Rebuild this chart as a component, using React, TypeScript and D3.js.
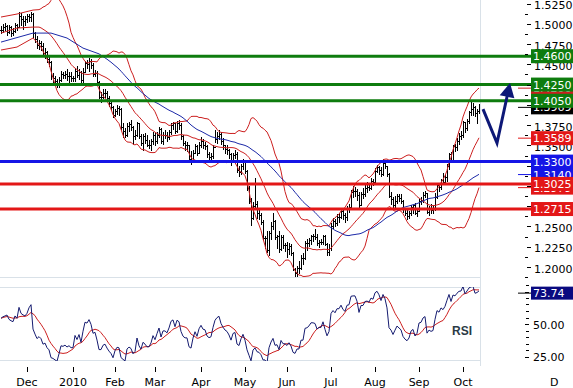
import React from "react";
import * as d3 from "d3";

// daily EUR/USD bars: [high, low, close]
type Bar = [number, number, number];

const nov09: Bar[] = [
  [1.4975, 1.488, 1.492], [1.4995, 1.4895, 1.496], [1.501, 1.4925, 1.4975], [1.499, 1.4865, 1.49],
  [1.4985, 1.488, 1.4955], [1.497, 1.485, 1.489], [1.495, 1.486, 1.491], [1.501, 1.49, 1.498],
  [1.5, 1.4925, 1.496], [1.5145, 1.4955, 1.51], [1.513, 1.498, 1.506], [1.509, 1.493, 1.503],
  [1.51, 1.499, 1.506],
];
const dec09: Bar[] = [
  [1.5125, 1.502, 1.509], [1.512, 1.503, 1.508], [1.5145, 1.504, 1.512], [1.513, 1.484, 1.488],
  [1.49, 1.477, 1.481], [1.485, 1.47, 1.474], [1.48, 1.469, 1.476], [1.479, 1.468, 1.473],
  [1.476, 1.46, 1.464], [1.47, 1.458, 1.465], [1.466, 1.453, 1.457], [1.46, 1.448, 1.453],
  [1.454, 1.432, 1.435], [1.439, 1.427, 1.433], [1.436, 1.425, 1.429], [1.432, 1.422, 1.425],
  [1.434, 1.422, 1.431], [1.442, 1.43, 1.438], [1.44, 1.433, 1.437], [1.442, 1.433, 1.438],
  [1.444, 1.431, 1.435], [1.44, 1.428, 1.436], [1.441, 1.43, 1.433],
];
const jan10: Bar[] = [
  [1.436, 1.43, 1.433], [1.445, 1.43, 1.442], [1.448, 1.434, 1.437], [1.444, 1.432, 1.441],
  [1.442, 1.426, 1.431], [1.445, 1.426, 1.441], [1.454, 1.442, 1.451], [1.455, 1.445, 1.45],
  [1.458, 1.442, 1.454], [1.456, 1.446, 1.449], [1.451, 1.435, 1.438], [1.443, 1.435, 1.439],
  [1.442, 1.425, 1.428], [1.429, 1.408, 1.41], [1.416, 1.403, 1.41], [1.419, 1.409, 1.414],
  [1.419, 1.41, 1.415], [1.417, 1.405, 1.408], [1.411, 1.398, 1.402], [1.405, 1.394, 1.397],
  [1.399, 1.385, 1.387],
];
const feb10: Bar[] = [
  [1.395, 1.386, 1.393], [1.4, 1.389, 1.396], [1.399, 1.388, 1.395], [1.396, 1.37, 1.373],
  [1.378, 1.36, 1.368], [1.372, 1.36, 1.363], [1.378, 1.362, 1.374], [1.379, 1.368, 1.376],
  [1.381, 1.369, 1.373], [1.374, 1.353, 1.361], [1.369, 1.358, 1.363], [1.379, 1.361, 1.377],
  [1.378, 1.359, 1.361], [1.364, 1.351, 1.353], [1.364, 1.344, 1.361], [1.365, 1.353, 1.357],
  [1.363, 1.349, 1.351], [1.357, 1.347, 1.351], [1.358, 1.344, 1.355], [1.367, 1.352, 1.363],
];
const mar10: Bar[] = [
  [1.365, 1.35, 1.356], [1.366, 1.353, 1.363], [1.373, 1.36, 1.37], [1.371, 1.353, 1.355],
  [1.367, 1.352, 1.363], [1.369, 1.359, 1.363], [1.366, 1.355, 1.36], [1.369, 1.358, 1.366],
  [1.377, 1.364, 1.375], [1.379, 1.37, 1.377], [1.378, 1.365, 1.368], [1.38, 1.367, 1.377],
  [1.381, 1.37, 1.375], [1.377, 1.358, 1.361], [1.363, 1.35, 1.353], [1.356, 1.344, 1.35],
  [1.354, 1.343, 1.35], [1.351, 1.331, 1.333], [1.343, 1.327, 1.33], [1.344, 1.329, 1.341],
  [1.352, 1.34, 1.349], [1.351, 1.338, 1.341], [1.354, 1.34, 1.351],
];
const apr10: Bar[] = [
  [1.36, 1.348, 1.356], [1.358, 1.347, 1.35], [1.354, 1.346, 1.349], [1.351, 1.336, 1.339],
  [1.342, 1.333, 1.336], [1.341, 1.33, 1.337], [1.351, 1.335, 1.348], [1.369, 1.354, 1.358],
  [1.367, 1.353, 1.362], [1.369, 1.358, 1.364], [1.367, 1.352, 1.355], [1.359, 1.345, 1.35],
  [1.351, 1.341, 1.346], [1.35, 1.339, 1.344], [1.346, 1.334, 1.339], [1.34, 1.326, 1.331],
  [1.341, 1.329, 1.338], [1.344, 1.334, 1.339], [1.342, 1.317, 1.32], [1.325, 1.312, 1.317],
  [1.327, 1.315, 1.324], [1.333, 1.321, 1.329],
];
const may10: Bar[] = [
  [1.331, 1.316, 1.319], [1.32, 1.295, 1.298], [1.3, 1.279, 1.282], [1.285, 1.252, 1.261],
  [1.28, 1.259, 1.275], [1.3095, 1.272, 1.278], [1.282, 1.261, 1.266], [1.272, 1.259, 1.264],
  [1.267, 1.253, 1.256], [1.258, 1.235, 1.236], [1.238, 1.223, 1.236], [1.244, 1.218, 1.221],
  [1.244, 1.215, 1.242], [1.255, 1.234, 1.251], [1.266, 1.247, 1.257], [1.258, 1.234, 1.237],
  [1.24, 1.223, 1.238], [1.244, 1.219, 1.222], [1.24, 1.221, 1.237], [1.239, 1.224, 1.227],
  [1.23, 1.22, 1.227],
];
const jun10: Bar[] = [
  [1.231, 1.212, 1.222], [1.229, 1.216, 1.226], [1.228, 1.215, 1.217], [1.218, 1.196, 1.197],
  [1.199, 1.188, 1.193], [1.201, 1.189, 1.199], [1.207, 1.192, 1.199], [1.215, 1.198, 1.211],
  [1.217, 1.204, 1.211], [1.232, 1.21, 1.229], [1.234, 1.221, 1.23], [1.236, 1.226, 1.233],
  [1.24, 1.228, 1.238], [1.241, 1.232, 1.238], [1.247, 1.235, 1.237], [1.241, 1.227, 1.229],
  [1.233, 1.225, 1.231], [1.235, 1.228, 1.231], [1.24, 1.228, 1.238], [1.239, 1.227, 1.228],
  [1.23, 1.215, 1.218], [1.228, 1.215, 1.223],
];
const jul10: Bar[] = [
  [1.254, 1.221, 1.251], [1.261, 1.248, 1.257], [1.259, 1.251, 1.254], [1.265, 1.252, 1.262],
  [1.266, 1.256, 1.262], [1.272, 1.261, 1.269], [1.27, 1.259, 1.264], [1.267, 1.256, 1.262],
  [1.275, 1.258, 1.273], [1.278, 1.268, 1.274], [1.295, 1.273, 1.293], [1.3, 1.286, 1.294],
  [1.299, 1.288, 1.294], [1.296, 1.283, 1.289], [1.293, 1.274, 1.277], [1.293, 1.276, 1.29],
  [1.298, 1.285, 1.29], [1.302, 1.288, 1.298], [1.305, 1.293, 1.299], [1.302, 1.295, 1.298],
  [1.31, 1.296, 1.306], [1.309, 1.301, 1.305],
];
const aug10: Bar[] = [
  [1.322, 1.305, 1.319], [1.326, 1.317, 1.323], [1.325, 1.315, 1.32], [1.323, 1.312, 1.315],
  [1.333, 1.314, 1.328], [1.33, 1.322, 1.324], [1.325, 1.312, 1.315], [1.316, 1.286, 1.288],
  [1.292, 1.278, 1.284], [1.286, 1.274, 1.276], [1.287, 1.274, 1.282], [1.29, 1.279, 1.288],
  [1.29, 1.281, 1.285], [1.29, 1.279, 1.282], [1.283, 1.268, 1.271], [1.272, 1.264, 1.266],
  [1.27, 1.259, 1.263], [1.269, 1.261, 1.266], [1.277, 1.264, 1.274], [1.277, 1.266, 1.276],
  [1.279, 1.265, 1.266], [1.272, 1.263, 1.269],
];
const sep10: Bar[] = [
  [1.284, 1.269, 1.282], [1.286, 1.278, 1.283], [1.292, 1.28, 1.289], [1.294, 1.286, 1.291],
  [1.291, 1.266, 1.268], [1.275, 1.264, 1.272], [1.278, 1.266, 1.27], [1.276, 1.267, 1.271],
  [1.291, 1.27, 1.286], [1.304, 1.285, 1.301], [1.304, 1.294, 1.299], [1.309, 1.296, 1.307],
  [1.316, 1.303, 1.305], [1.314, 1.303, 1.311], [1.327, 1.306, 1.324], [1.341, 1.321, 1.339],
  [1.342, 1.329, 1.331], [1.35, 1.33, 1.349], [1.352, 1.343, 1.348], [1.359, 1.344, 1.356],
  [1.365, 1.352, 1.362], [1.368, 1.358, 1.363],
];
const oct10: Bar[] = [
  [1.38, 1.36, 1.379], [1.379, 1.367, 1.371], [1.382, 1.369, 1.38], [1.393, 1.378, 1.391],
  [1.403, 1.388, 1.395], [1.402, 1.388, 1.397], [1.399, 1.386, 1.39], [1.395, 1.377, 1.392],
  [1.401, 1.39, 1.3969],
];

const bars: Bar[] = [
  ...nov09, ...dec09, ...jan10, ...feb10, ...mar10, ...apr10,
  ...may10, ...jun10, ...jul10, ...aug10, ...sep10, ...oct10,
];
const firstDay = new Date(2009, 10, 12);

// indicator values before enough history is on the chart: [bar, value]
const bbUpperHead: [number, number][] = [[0, 1.5083], [8, 1.512], [16, 1.5169]];
const bbMidHead: [number, number][] = [[0, 1.4885], [8, 1.4947], [16, 1.4959]];
const bbLowerHead: [number, number][] = [[0, 1.4676], [8, 1.4713], [16, 1.4824]];
const smaHead: [number, number][] = [[0, 1.4774], [16, 1.4885], [25, 1.4885], [33, 1.4824], [41, 1.47]];
const rsiHead = [54.4, 55.6, 56.2, 56.9, 53.6, 52.5, 51.8, 56.2, 54.4, 62.8, 58.2, 57.0, 56.2, 58.2];

// horizontal support / resistance levels
const levelValues = [1.46, 1.425, 1.405, 1.33, 1.3025, 1.2715];
const levelKinds = ["res", "res", "res", "pivot", "sup", "sup"];

// last values shown on the right axis
const lastBbUpper = 1.4206;
const lastClose = 1.3969;
const lastBbMid = 1.3589;
const lastSma = 1.3140;
const lastBbLower = 1.2979;
const lastRsi = 73.74;

// projected path drawn on the chart: [bar, price]
const projection: [number, number][] = [[241, 1.3948], [248, 1.3529], [254.5, 1.4269]];

const GREEN = "#0e7c0e";
const RED = "#e31717";
const BLUE = "#1515e6";
const BAND = "#cc1f1f";
const NAVY = "#0d1877";
const GRID = "#d9e1e8";
const FONT = "DejaVu Sans, Verdana, sans-serif";

const levelColor: Record<string, string> = { res: GREEN, pivot: BLUE, sup: RED };

export default function App() {
  const n = bars.length;
  const closes = bars.map((b) => b[2]);

  const x = d3.scaleLinear().domain([0, n - 1]).range([1, 479]);
  const y = d3.scaleLinear().domain([1.2, 1.525]).range([267, 3.5]);
  const yr = d3.scaleLinear().domain([25, 50]).range([356.5, 324]);

  // weekday calendar for the axis
  const days: Date[] = [];
  for (let d = new Date(firstDay); days.length < 300; d.setDate(d.getDate() + 1)) {
    const wd = d.getDay();
    if (wd !== 0 && wd !== 6) days.push(new Date(d));
  }
  const monthStarts: number[] = [];
  for (let i = 1; i < days.length; i++) {
    if (days[i].getMonth() !== days[i - 1].getMonth()) monthStarts.push(i);
  }
  const fmtMonth = d3.timeFormat("%b");
  const ticks = monthStarts.filter((i) => i < n);
  const tailMonth = monthStarts.find((i) => i >= n && days[i].getMonth() === 11)!;

  // bollinger 20,2 and sma 50
  const bbU: [number, number][] = [...bbUpperHead];
  const bbM: [number, number][] = [...bbMidHead];
  const bbL: [number, number][] = [...bbLowerHead];
  for (let i = 19; i < n; i++) {
    const w = closes.slice(i - 19, i + 1);
    const m = d3.mean(w)!;
    const s = Math.sqrt(d3.mean(w, (v) => (v - m) ** 2)!);
    bbU.push([i, m + 2 * s]);
    bbM.push([i, m]);
    bbL.push([i, m - 2 * s]);
  }
  const sma: [number, number][] = [...smaHead];
  for (let i = 49; i < n; i++) sma.push([i, d3.mean(closes.slice(i - 49, i + 1))!]);

  // rsi 14 (wilder)
  const rsi: number[] = [...rsiHead];
  let ag = 0, al = 0;
  for (let i = 1; i <= 14; i++) {
    const ch = closes[i] - closes[i - 1];
    if (ch > 0) ag += ch; else al -= ch;
  }
  ag /= 14; al /= 14;
  rsi[14] = 100 - 100 / (1 + ag / al);
  for (let i = 15; i < n; i++) {
    const ch = closes[i] - closes[i - 1];
    ag = (ag * 13 + Math.max(ch, 0)) / 14;
    al = (al * 13 + Math.max(-ch, 0)) / 14;
    rsi[i] = 100 - 100 / (1 + ag / al);
  }
  const rsiSig = rsi.map((_, i) => d3.mean(rsi.slice(Math.max(0, i - 8), i + 1))!);

  const priceLine = d3.line<[number, number]>().x((d) => x(d[0])).y((d) => y(d[1]));
  const rsiLine = d3.line<number>().x((_, i) => x(i)).y((d) => yr(d));

  const majors = d3.range(0, 14).map((k) => 1.2 + k * 0.025);
  const minors = d3.range(0, 14).map((k) => 1.1875 + k * 0.025);
  const rsiTicks = d3.range(25, 81, 5);
  const f4 = d3.format(".4f");
  const f2 = d3.format(".2f");

  const indicatorLabels = [
    { v: lastBbUpper, c: BAND },
    { v: lastClose, c: "#000" },
    { v: lastBbMid, c: RED },
    { v: lastSma, c: BLUE },
    { v: lastBbLower, c: RED },
  ];

  // projection arrow
  const pp = projection.map(([i, p]) => [x(i), y(p)] as [number, number]);
  const [tx, ty] = pp[pp.length - 1];
  const [bx, by] = pp[pp.length - 2];
  const len = Math.hypot(tx - bx, ty - by);
  const ux = (tx - bx) / len, uy = (ty - by) / len;
  const headL = 14, headW = 7.5;
  const hx = tx - ux * headL, hy = ty - uy * headL;
  const shaft = [...pp.slice(0, -1), [hx + ux, hy + uy] as [number, number]];
  const head = `M${tx},${ty}L${hx - uy * headW},${hy + ux * headW}L${hx + uy * headW},${hy - ux * headW}Z`;

  return (
    <svg width={573} height={388} style={{ position: "absolute", left: 0, top: 0, background: "#fff" }}
      fontFamily={FONT}>
      <defs>
        <clipPath id="main"><rect x={0} y={0} width={480} height={277} /></clipPath>
        <clipPath id="rsi"><rect x={0} y={287} width={480} height={74} /></clipPath>
      </defs>
      <rect x={0} y={0} width={573} height={388} fill="#fff" />

      {/* frame lines */}
      <g stroke={GRID} strokeWidth={1} shapeRendering="crispEdges">
        <line x1={480.5} x2={480.5} y1={0} y2={366} />
        <line x1={0} x2={480} y1={277.5} y2={277.5} />
        <line x1={0} x2={480} y1={287.5} y2={287.5} />
        <line x1={0} x2={480} y1={360.5} y2={360.5} />
      </g>

      <g clipPath="url(#main)">
        {/* price bars */}
        <g stroke="#000" strokeWidth={1} shapeRendering="crispEdges">
          {bars.map(([h, l, c], i) => {
            const cx = Math.round(x(i)) + 0.5;
            const o = i > 0 ? bars[i - 1][2] : c;
            const yo = Math.round(y(o)) + 0.5;
            const yc = Math.round(y(c)) + 0.5;
            return (
              <g key={i}>
                <line x1={cx} x2={cx} y1={Math.round(y(h))} y2={Math.round(y(l)) + 1} />
                <line x1={cx - 1.5} x2={cx} y1={yo} y2={yo} />
                <line x1={cx} x2={cx + 1.5} y1={yc} y2={yc} />
              </g>
            );
          })}
        </g>
        <g fill="none" strokeWidth={1}>
          <path d={priceLine(bbU)!} stroke={BAND} />
          <path d={priceLine(bbM)!} stroke={BAND} />
          <path d={priceLine(bbL)!} stroke={BAND} />
          <path d={priceLine(sma)!} stroke="#1d2aa8" />
        </g>
      </g>

      {/* levels */}
      {levelValues.map((v, k) => (
        <line key={k} x1={0} x2={531} y1={y(v)} y2={y(v)} stroke={levelColor[levelKinds[k]]} strokeWidth={3} />
      ))}

      {/* projection */}
      <polyline points={shaft.map((p) => p.join(",")).join(" ")} fill="none" stroke={NAVY}
        strokeWidth={3} strokeLinejoin="miter" />
      <path d={head} fill={NAVY} />

      {/* rsi */}
      <g clipPath="url(#rsi)" fill="none" strokeWidth={1}>
        <path d={rsiLine(rsiSig)!} stroke={BAND} />
        <path d={rsiLine(rsi)!} stroke="#151b70" />
      </g>
      <text x={452} y={335} fontFamily="Liberation Sans, Arial, sans-serif" fontWeight="bold" fontSize={12}
        fill="#2b3a45">RSI</text>

      {/* price axis */}
      <g stroke="#000" shapeRendering="crispEdges">
        {majors.map((v) => <line key={v} x1={527} x2={531} y1={Math.round(y(v)) + 0.5} y2={Math.round(y(v)) + 0.5} />)}
        {minors.map((v) => <line key={v} x1={525} x2={528} y1={Math.round(y(v)) + 0.5} y2={Math.round(y(v)) + 0.5} />)}
      </g>
      <g fontSize={11} fill="#000">
        {majors.map((v) => <text key={v} x={534} y={y(v) + 5.5}>{f4(v)}</text>)}
      </g>

      {/* indicator last values */}
      {indicatorLabels.map((d, k) => (
        <g key={k}>
          <line x1={518} x2={531} y1={y(d.v)} y2={y(d.v)} stroke={d.c} strokeWidth={1} />
          <rect x={531} y={y(d.v) - 7} width={42} height={14} fill={d.c} />
          <text x={533} y={y(d.v) + 4} fontSize={11} fill="#fff">{f4(d.v)}</text>
        </g>
      ))}

      {/* level labels */}
      {levelValues.map((v, k) => (
        <g key={k}>
          <rect x={531} y={y(v) - 7} width={42} height={14} fill={levelColor[levelKinds[k]]} />
          <text x={533} y={y(v) + 4} fontSize={11} fill="#fff">{f4(v)}</text>
        </g>
      ))}

      {/* rsi axis */}
      <g stroke="#000" shapeRendering="crispEdges">
        {rsiTicks.map((v) => (
          <line key={v} x1={v % 25 === 0 ? 525 : 526} x2={529} y1={Math.round(yr(v)) + 0.5} y2={Math.round(yr(v)) + 0.5} />
        ))}
      </g>
      <g fontSize={11} fill="#000">
        {[25, 50, 75].map((v) => <text key={v} x={533} y={yr(v) + 4.5}>{f2(v)}</text>)}
      </g>
      <line x1={518} x2={531} y1={yr(lastRsi)} y2={yr(lastRsi)} stroke="#000" strokeWidth={1} />
      <rect x={531} y={yr(lastRsi) - 6.5} width={42} height={13} fill="#0a0a80" />
      <text x={533} y={yr(lastRsi) + 4} fontSize={11} fill="#fff">{f2(lastRsi)}</text>

      {/* time axis */}
      <g stroke="#000" shapeRendering="crispEdges">
        {ticks.map((i) => <line key={i} x1={Math.round(x(i)) + 0.5} x2={Math.round(x(i)) + 0.5} y1={367} y2={372} />)}
      </g>
      <g fontSize={11} fill="#000" textAnchor="middle">
        {ticks.map((i) => (
          <text key={i} x={x(i)} y={386}>
            {days[i].getMonth() === 0 ? String(days[i].getFullYear()) : fmtMonth(days[i])}
          </text>
        ))}
        <text x={x(tailMonth) + 1} y={386} textAnchor="start">{fmtMonth(days[tailMonth]).charAt(0)}</text>
      </g>
    </svg>
  );
}
